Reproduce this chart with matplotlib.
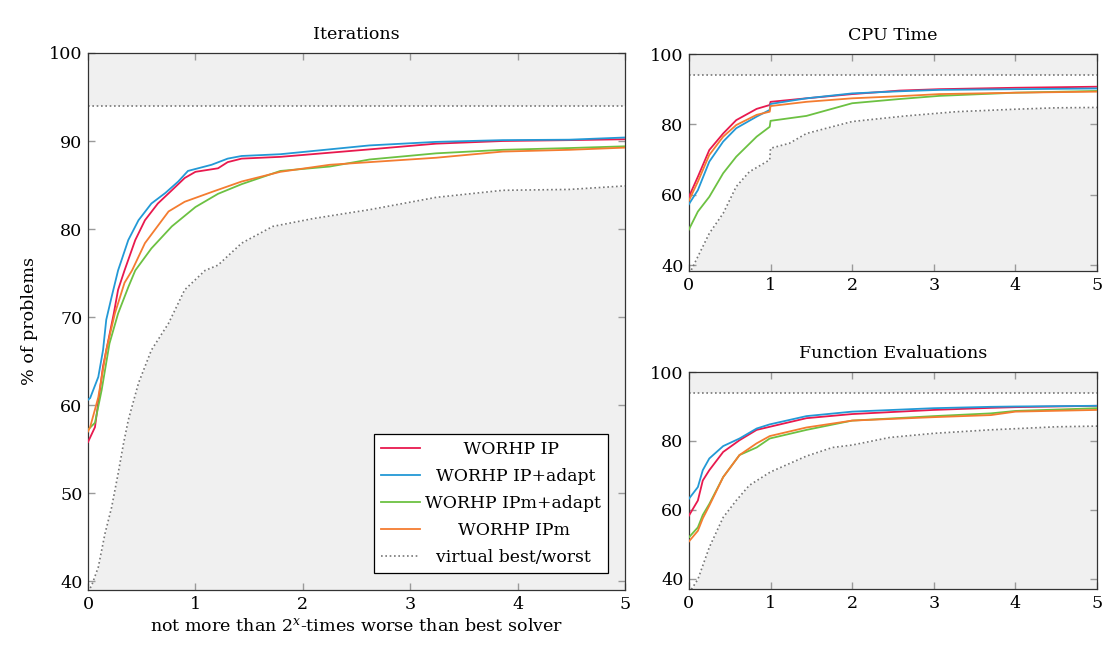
import matplotlib
matplotlib.use("Agg")
import matplotlib.pyplot as plt

plt.rcParams['font.family'] = ['DejaVu Serif']
plt.rcParams['mathtext.fontset'] = 'dejavuserif'

labels = ['WORHP IP', 'WORHP IP+adapt', 'WORHP IPm+adapt', 'WORHP IPm']
colors = ['#e8194e', '#2399d6', '#6cc142', '#f47c30']
best = 94.0

# Iterations (each curve has its own x points)
it_ip_x = [0, 0.065, 0.14, 0.24, 0.28, 0.34, 0.44, 0.53, 0.65, 0.78, 0.90, 1.0, 1.21, 1.30, 1.43, 1.79, 2.62, 3.24, 3.86, 4.48, 5.0]
it_ip = [55.8, 57.5, 64.4, 70.4, 73.1, 75.3, 78.75, 81.0, 82.9, 84.4, 85.8, 86.5, 86.9, 87.6, 88.0, 88.2, 89.05, 89.7, 90.0, 90.1, 90.2]
it_ip_ad_x = [0, 0.02, 0.096, 0.14, 0.17, 0.22, 0.28, 0.375, 0.47, 0.59, 0.72, 0.84, 0.93, 1.15, 1.30, 1.43, 1.79, 2.62, 3.24, 3.86, 4.48, 5.0]
it_ip_ad = [60.6, 60.8, 63.2, 66.25, 69.7, 72.3, 75.3, 78.75, 81.0, 82.9, 84.1, 85.4, 86.6, 87.3, 88.0, 88.3, 88.5, 89.5, 89.9, 90.1, 90.15, 90.4]
it_ipm_ad_x = [0, 0.065, 0.127, 0.20, 0.28, 0.375, 0.44, 0.59, 0.78, 1.0, 1.21, 1.43, 1.79, 2.25, 2.62, 3.24, 3.86, 4.48, 5.0]
it_ipm_ad = [57.2, 58.0, 61.7, 67.0, 70.4, 73.4, 75.3, 77.8, 80.3, 82.5, 84.0, 85.1, 86.6, 87.1, 87.9, 88.6, 89.0, 89.2, 89.4]
it_ipm_x = [0, 0.02, 0.096, 0.17, 0.25, 0.34, 0.41, 0.53, 0.75, 0.90, 1.15, 1.43, 1.79, 2.25, 2.62, 3.24, 3.86, 4.48, 5.0]
it_ipm = [57.0, 57.5, 60.9, 66.25, 70.4, 73.9, 75.3, 78.4, 82.0, 83.1, 84.2, 85.4, 86.5, 87.3, 87.6, 88.1, 88.8, 89.0, 89.25]
it_wx = [0, 0.034, 0.096, 0.158, 0.22, 0.28, 0.33, 0.375, 0.47, 0.59, 0.75, 0.90, 1.09, 1.21, 1.43, 1.72, 2.1, 2.41, 2.62, 3.24, 3.86, 4.48, 5.0]
it_worst = [38.8, 39.5, 41.6, 45.4, 48.4, 52.2, 55.6, 58.3, 62.5, 66.25, 69.3, 73.1, 75.3, 75.9, 78.4, 80.3, 81.2, 81.8, 82.2, 83.6, 84.4, 84.5, 84.9]

# CPU Time
cpu_x = [0, 0.11, 0.25, 0.42, 0.58, 0.83, 0.99, 1.0, 1.44, 2.0, 2.58, 3.07, 4.0, 5.0]
cpu_ip = [59.4, 65.1, 72.7, 77.4, 81.2, 84.4, 85.5, 86.4, 87.4, 88.6, 89.6, 90.0, 90.4, 90.7]
cpu_ip_ad = [57.3, 61.3, 69.4, 75.1, 78.9, 82.2, 84.1, 85.8, 87.4, 88.8, 89.4, 89.8, 90.0, 90.2]
cpu_ipm_ad = [50.1, 55.2, 59.4, 66.1, 70.8, 76.5, 79.3, 81.0, 82.4, 86.0, 87.2, 88.1, 89.0, 89.5]
cpu_ipm = [58.3, 63.7, 71.3, 76.5, 79.8, 82.7, 83.6, 85.2, 86.4, 87.4, 88.0, 88.6, 89.0, 89.3]
cpu_wx = [0.03, 0.11, 0.25, 0.42, 0.58, 0.74, 0.99, 1.0, 1.23, 1.44, 2.0, 2.66, 3.28, 4.0, 4.5, 5.0]
cpu_worst = [38.6, 42.4, 49.0, 54.7, 62.3, 66.5, 69.9, 73.2, 74.6, 77.4, 80.8, 82.4, 83.6, 84.3, 84.7, 84.8]

# Function Evaluations
fe_x = [0, 0.11, 0.17, 0.25, 0.42, 0.62, 0.83, 0.99, 1.44, 2.0, 3.0, 3.7, 4.0, 5.0]
fe_ip = [58.3, 62.7, 68.5, 71.5, 76.8, 80.2, 83.2, 84.1, 86.6, 87.8, 89.0, 89.6, 89.8, 90.2]
fe_ip_ad = [63.2, 66.6, 71.5, 74.9, 78.5, 80.7, 83.6, 84.8, 87.2, 88.5, 89.5, 89.9, 90.0, 90.2]
fe_ipm_ad = [52.0, 54.9, 58.5, 61.7, 69.5, 75.9, 78.1, 80.7, 83.2, 85.9, 87.2, 88.0, 88.7, 89.5]
fe_ipm = [50.8, 53.9, 57.5, 61.2, 69.5, 75.9, 79.3, 81.4, 83.9, 85.9, 86.9, 87.5, 88.5, 89.0]
fe_wx = [0.03, 0.11, 0.25, 0.42, 0.58, 0.74, 1.0, 1.44, 1.76, 2.0, 2.46, 3.0, 3.68, 4.5, 5.0]
fe_worst = [36.9, 39.8, 49.1, 57.8, 62.7, 67.1, 71.0, 75.6, 78.1, 78.8, 81.0, 82.2, 83.2, 84.1, 84.3]

fig = plt.figure(figsize=(11.04, 6.46), dpi=100)
ax_it = fig.add_axes([0.0797, 0.0867, 0.4867, 0.8313])
ax_cpu = fig.add_axes([0.624, 0.5805, 0.3697, 0.3359])
ax_fe = fig.add_axes([0.624, 0.0882, 0.3697, 0.3359])

panels = [
    (ax_it, 'Iterations',
     [(it_ip_x, it_ip), (it_ip_ad_x, it_ip_ad), (it_ipm_ad_x, it_ipm_ad), (it_ipm_x, it_ipm)],
     it_wx, it_worst, 39, [40, 50, 60, 70, 80, 90, 100]),
    (ax_cpu, 'CPU Time',
     [(cpu_x, cpu_ip), (cpu_x, cpu_ip_ad), (cpu_x, cpu_ipm_ad), (cpu_x, cpu_ipm)],
     cpu_wx, cpu_worst, 38.3, [40, 60, 80, 100]),
    (ax_fe, 'Function Evaluations',
     [(fe_x, fe_ip), (fe_x, fe_ip_ad), (fe_x, fe_ipm_ad), (fe_x, fe_ipm)],
     fe_wx, fe_worst, 37, [40, 60, 80, 100]),
]

for ax, title, curves, wx, worst, ymin, yt in panels:
    ax.fill_between([0, 5], best, 100, color='#f0f0f0', lw=0, zorder=0)
    ax.fill_between(wx, ymin, worst, color='#f0f0f0', lw=0, zorder=0)
    for (x, y), c, lab in zip(curves, colors, labels):
        ax.plot(x, y, color=c, lw=1.3, label=lab, zorder=3)
    ax.plot(wx, worst, color='#777777', lw=1.2, ls=(0, (1, 1.6)), zorder=2,
            label='virtual best/worst')
    ax.axhline(best, color='#777777', lw=1.2, ls=(0, (1, 1.6)), zorder=2)
    ax.set_xlim(0, 5)
    ax.set_ylim(ymin, 100)
    ax.set_xticks([0, 1, 2, 3, 4, 5])
    ax.set_yticks(yt)
    ax.tick_params(direction='in', top=True, right=True, length=5, width=1,
                   color='#9a9a9a', labelsize=12.6, pad=4)
    for s in ax.spines.values():
        s.set_color('#333333')
        s.set_linewidth(0.9)
    ax.set_title(title, fontsize=12.6, pad=10)

ax_it.set_xlabel(r'not more than $2^{x}$-times worse than best solver', fontsize=12.6, labelpad=4)
ax_it.set_ylabel('% of problems', fontsize=12.6, labelpad=8)

# leading spaces so the labels look centred in the box
pads = [7, 2, 0, 6, 2]
h, l = ax_it.get_legend_handles_labels()
l = [' ' * p + s for p, s in zip(pads, l)]
leg = ax_it.legend(h, l, loc='lower right', fontsize=12.4, fancybox=False,
                   edgecolor='black', framealpha=1, handlelength=2.3,
                   handletextpad=0.3, borderaxespad=1.0, labelspacing=0.58)
leg.get_frame().set_linewidth(0.9)

fig.savefig('out.png', dpi=100)
